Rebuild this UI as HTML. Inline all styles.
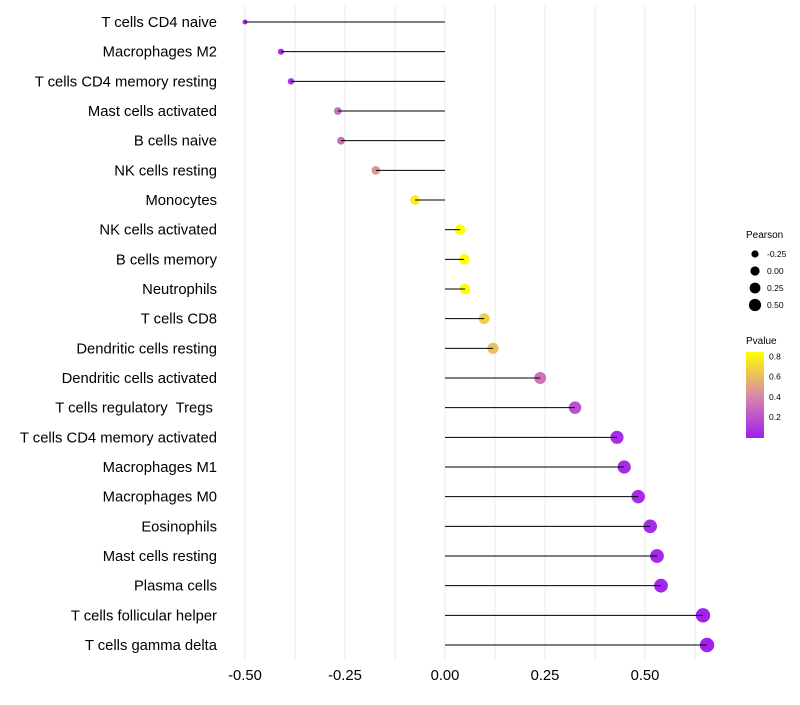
<!DOCTYPE html>
<html><head><meta charset="utf-8"><style>
html,body{margin:0;padding:0;background:#fff;}
svg text{font-family:"Liberation Sans",sans-serif;white-space:pre;}
</style></head><body>
<svg id="chart" width="800" height="700" viewBox="0 0 800 700">
<g id="grid"></g>
<g id="marks"></g>
<g id="ylabels"></g>
<g id="xlabels"></g>
<g>
<text x="746" y="238" font-size="10" fill="#000">Pearson</text>
<g id="sizeLegend"></g>
</g>
<g>
<text x="746" y="344" font-size="10" fill="#000">Pvalue</text>
<defs><linearGradient id="pg" x1="0" y1="1" x2="0" y2="0">
<stop offset="0" stop-color="#A020F0"/><stop offset="0.5" stop-color="#D98AA8"/><stop offset="1" stop-color="#FFFF00"/></linearGradient></defs>
<rect x="746" y="352" width="18" height="86" fill="url(#pg)"/>
<g id="colorLegend"></g>
</g>
</svg>
<script>
const categories=["T cells CD4 naive","Macrophages M2","T cells CD4 memory resting","Mast cells activated","B cells naive","NK cells resting","Monocytes","NK cells activated","B cells memory","Neutrophils","T cells CD8","Dendritic cells resting","Dendritic cells activated","T cells regulatory  Tregs ","T cells CD4 memory activated","Macrophages M1","Macrophages M0","Eosinophils","Mast cells resting","Plasma cells","T cells follicular helper","T cells gamma delta"];
const pearson=[-0.50,-0.41,-0.385,-0.268,-0.26,-0.173,-0.075,0.038,0.048,0.05,0.098,0.12,0.238,0.325,0.43,0.448,0.483,0.513,0.53,0.54,0.645,0.655];
const pvalue=[0.02,0.07,0.09,0.32,0.32,0.47,0.78,0.86,0.85,0.84,0.68,0.62,0.33,0.2,0.05,0.05,0.04,0.04,0.03,0.03,0.01,0.01];
const xTicks=[-0.5,-0.25,0,0.25,0.5];
const xTickLabels=["-0.50","-0.25","0.00","0.25","0.50"];
const sizeBreaks=[-0.25,0,0.25,0.5];
const sizeLabels=["-0.25","0.00","0.25","0.50"];
const colorBreaks=[0.2,0.4,0.6,0.8];
const colorLabels=["0.2","0.4","0.6","0.8"];

const NS="http://www.w3.org/2000/svg";
const x=v=>445+v*400;
const y=i=>22+i*(623/21);
const r=v=>Math.sqrt(6+40*Math.max(0,v+0.5));
const pvY=p=>437-p*100.5;
function lerp(a,b,t){return a.map((c,i)=>Math.round(c+(b[i]-c)*t));}
function col(p){const t=Math.max(0,Math.min(1,p/0.85));const A=[160,32,240],M=[217,138,168],B=[255,255,0];
 const c=t<0.5?lerp(A,M,t/0.5):lerp(M,B,(t-0.5)/0.5);return `rgb(${c[0]},${c[1]},${c[2]})`;}
function mk(tag,attrs,parent){const e=document.createElementNS(NS,tag);for(const k in attrs)e.setAttribute(k,attrs[k]);parent.appendChild(e);return e;}
const grid=document.getElementById('grid'),marks=document.getElementById('marks'),yl=document.getElementById('ylabels'),xl=document.getElementById('xlabels');
for(let v=-0.5;v<=0.63;v+=0.125){
 const g=mk('line',{x1:x(v),x2:x(v),y1:5,y2:660,stroke:'#ebebeb','stroke-width':1},grid);
 
 
}
categories.forEach((c,i)=>{
 const cy=y(i);
 const pt=mk('circle',{cx:x(pearson[i]),cy:cy,r:r(pearson[i]),fill:col(pvalue[i])},marks);
 
 
 const ln=mk('line',{x1:x(0),x2:x(pearson[i]),y1:cy,y2:cy,stroke:'#000','stroke-width':1},marks);
 
 
 const t=mk('text',{x:217,y:cy+5,'text-anchor':'end','font-size':14.8,fill:'#000'},yl);
 t.textContent=c;
 
 
});
xTicks.forEach((v,i)=>{
 const t=mk('text',{x:x(v),y:680,'text-anchor':'middle','font-size':14.8,fill:'#000'},xl);
 t.textContent=xTickLabels[i];
 
 
});
const sl=document.getElementById('sizeLegend');
sizeBreaks.forEach((v,i)=>{
 const cy=254+i*17;
 const c=mk('circle',{cx:755,cy:cy,r:r(v)*0.9,fill:'#000'},sl);
 
 
 const t=mk('text',{x:767,y:cy+3,'font-size':8.5,fill:'#000'},sl);
 t.textContent=sizeLabels[i];
 
 
});
const cl=document.getElementById('colorLegend');
colorBreaks.forEach((v,i)=>{
 const t=mk('text',{x:769,y:pvY(v)+3,'font-size':8.5,fill:'#000'},cl);
 t.textContent=colorLabels[i];
 
 
});
</script>
</body></html>
